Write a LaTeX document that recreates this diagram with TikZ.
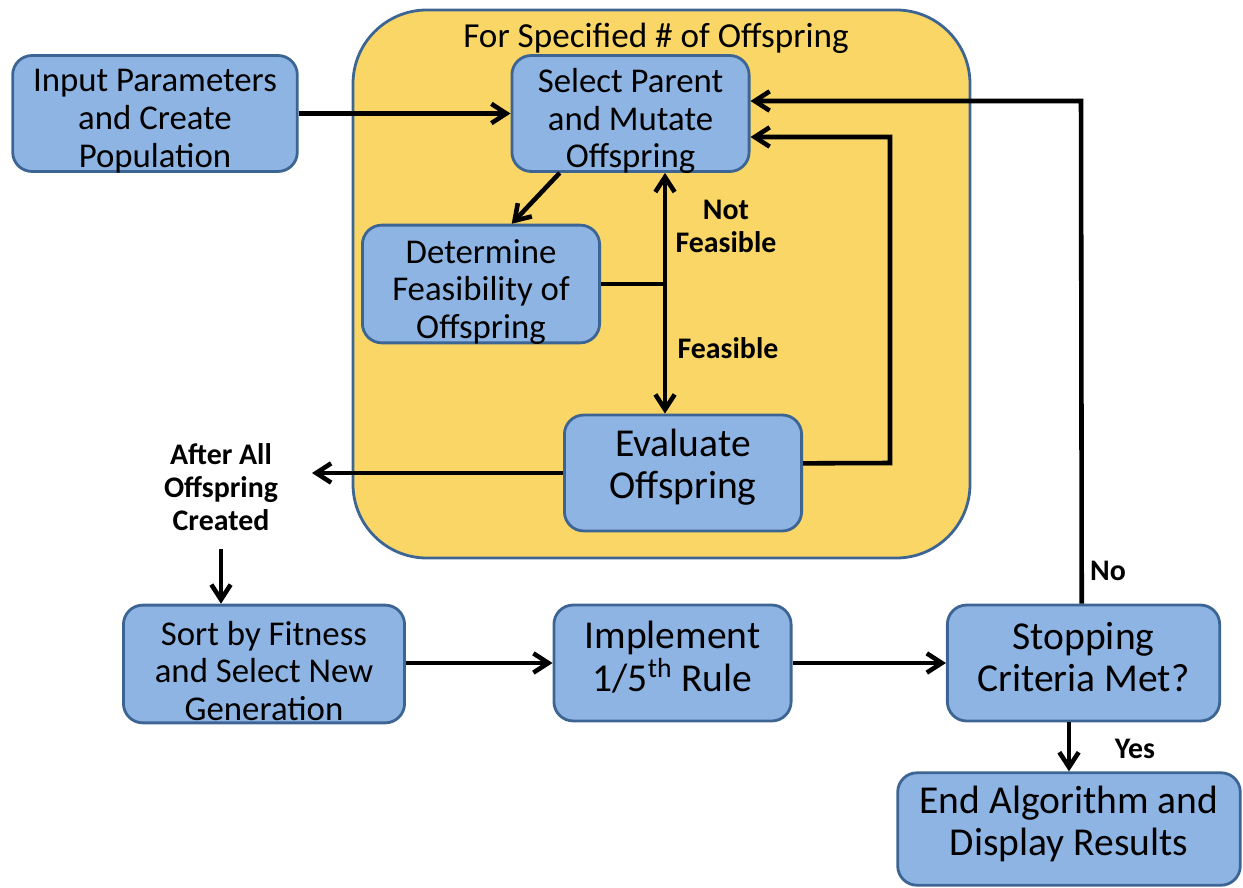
\documentclass[tikz,border=0pt]{standalone}
\usepackage{fontspec}
\setmainfont{Carlito}
\usepackage{tikz}
\usetikzlibrary{arrows.meta,calc,positioning}
\usepackage{xcolor}
\definecolor{boxfill}{HTML}{8EB4E3}
\definecolor{boxline}{HTML}{3D6594}
\definecolor{loopfill}{HTML}{FAD666}

\begin{document}
\begin{tikzpicture}[x=0.02cm,y=-0.02cm,
  >={Straight Barb[length=8.5pt,width=11pt]},
  flow/.style={->,line width=2.6pt},
  stepbox/.style={draw=boxline,line width=1.6pt,fill=boxfill,rounded corners=11pt,inner sep=0pt},
  steptext/.style={align=center,inner sep=0pt,font=\fontsize{19.8}{21.5}\selectfont},
  bigtext/.style={align=center,inner sep=0pt,font=\fontsize{22.5}{24.2}\selectfont},
  tag/.style={align=center,font=\fontsize{17}{18.7}\selectfont\bfseries}]
  \useasboundingbox (0,0) rectangle (1243,888);
  % yellow loop region
  \draw[boxline,line width=1.6pt,fill=loopfill,rounded corners=42pt] (353,10) rectangle (970,558);
  \node[font=\fontsize{20}{22}\selectfont] (looptitle) at (656,38) {For Specified \# of Offspring};
  % boxes (text set a little off centre, as in the slide)
  \node[stepbox,minimum width=162pt,minimum height=66pt] (input) at (155,113.5) {};
  \node[steptext] (inputtxt) at (155,121) {Input Parameters\\and Create\\Population};
  \node[stepbox,minimum width=135pt,minimum height=66pt] (select) at (630.5,113.5) {};
  \node[steptext] (selecttxt) at (630.5,121) {Select Parent\\and Mutate\\Offspring};
  \node[stepbox,minimum width=135pt,minimum height=67pt] (feas) at (481,284) {};
  \node[steptext] (feastxt) at (481,292) {Determine\\Feasibility of\\Offspring};
  \node[stepbox,minimum width=135pt,minimum height=66pt] (evalo) at (683,473) {};
  \node[bigtext] (evalotxt) at (683,467) {Evaluate\\Offspring};
  \node[stepbox,minimum width=160pt,minimum height=67pt] (sortf) at (264,664) {};
  \node[steptext] (sortftxt) at (264,671) {Sort by Fitness\\and Select New\\Generation};
  \node[stepbox,minimum width=135pt,minimum height=66pt] (rule) at (672.5,663) {};
  \node[bigtext] (ruletxt) at (672.5,657) {Implement\\1/5\textsuperscript{th} Rule};
  \node[stepbox,minimum width=155pt,minimum height=66pt] (stopc) at (1083.5,663) {};
  \node[bigtext] (stopctxt) at (1083.5,657) {Stopping\\Criteria Met?};
  \node[stepbox,minimum width=195pt,minimum height=64pt] (endalg) at (1069,829) {};
  \node[bigtext] (endalgtxt) at (1069,824) {End Algorithm and\\Display Results};
  % labels
  \node[tag] (after) at (221,487) {After All\\Offspring\\Created};
  \node[tag] (notfeas) at (726,226) {Not\\Feasible};
  \node[tag] (okfeas) at (728,348) {Feasible};
  \node[tag] (nolbl) at (1108,571) {No};
  \node[tag] (yeslbl) at (1135,749) {Yes};
  % connectors
  \coordinate (fork) at (665,284);
  \coordinate (aftertip) at (312,473);
  \draw[flow] (input.east |- select.west) -- (select.west);
  \draw[flow] (select.220) -- (feas.63);
  \draw[line width=2.6pt] (feas.east) -- (fork);
  \draw[flow] (fork) -- (fork |- select.south);
  \draw[flow] (fork) -- (fork |- evalo.north);
  \draw[flow] ([yshift=5.5pt]evalo.east) -- (890,463) -- (890,137) -- (select.east |- 0,137);
  \draw[flow] (evalo.west) -- (aftertip);
  \draw[flow,shorten <=7pt] (after.south) -- (after.south |- sortf.north);
  \draw[flow] (sortf.east |- rule.west) -- (rule.west);
  \draw[flow] (rule.east) -- (stopc.west);
  \draw[flow] ([xshift=-1pt]stopc.north) -- (1081,101) -- (select.east |- 0,101);
  \draw[flow] (stopc.south -| endalg.north) -- (endalg.north);
\end{tikzpicture}
\end{document}
